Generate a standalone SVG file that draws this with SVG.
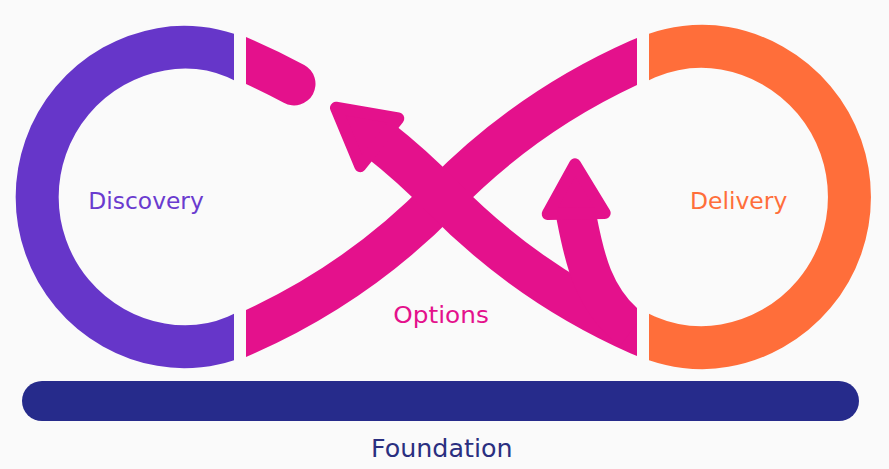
<svg xmlns="http://www.w3.org/2000/svg" width="889" height="469" viewBox="0 0 889 469">
  <style>
    .lbl { font-family: "DejaVu Sans", "Liberation Sans", sans-serif; font-size: 23px; }
    .band { fill: none; stroke-width: 43; stroke-linecap: butt; }
    .stub { fill: none; stroke-width: 43; stroke-linecap: round; }
    .pink { stroke: #E4118C; }
    .head { fill: #E4118C; stroke: #E4118C; stroke-width: 12; stroke-linejoin: round; }
  </style>
  <defs>
    <clipPath id="clipL"><rect x="0" y="0" width="234" height="469"/></clipPath>
    <clipPath id="clipR"><rect x="649" y="0" width="240" height="469"/></clipPath>
    <clipPath id="clipM"><rect x="246" y="0" width="391" height="469"/></clipPath>
  </defs>
  <rect x="0" y="0" width="889" height="469" fill="#FAFAFA"/>

  <g id="discovery">
    <path class="band" stroke="#6636C9" clip-path="url(#clipL)" d="M 246 62 L 236 57.5 C 213 47.75 185.6 44.95 161 49.3 A 150 150 0 0 0 161 344.7 C 185.6 349.05 213 346.25 236 336.5 L 246 332"/>
    <text class="lbl" x="88.3" y="209.3" fill="#6A3BCF" textLength="115.5" lengthAdjust="spacingAndGlyphs">Discovery</text>
  </g>

  <g id="delivery">
    <path class="band" stroke="#FF6E3A" clip-path="url(#clipR)" d="M 637 62 L 647 57.5 C 670.9 47.4 699.1 43.8 724.7 48.3 A 151 151 0 0 1 724.7 345.7 C 699.1 350.2 670.9 346.6 647 336.5 L 637 332"/>
    <text class="lbl" x="690" y="209.3" fill="#FF6E3A" textLength="97.3" lengthAdjust="spacingAndGlyphs">Delivery</text>
  </g>

  <g id="options">
    <g clip-path="url(#clipM)">
      <path class="band pink" d="M 226 342.1 L 246 333.5 A 633 633 0 0 0 442.5 197 A 633 633 0 0 1 639 60.5 L 659 51.9"/>
      <path class="stub pink" d="M 226 51.9 L 246 60.5 A 633 633 0 0 1 294 83.9"/>
    </g>
    <text class="lbl" x="393.3" y="323.3" fill="#E4118C" textLength="95.5" lengthAdjust="spacingAndGlyphs">Options</text>
  </g>

  <g id="connectors">
    <g clip-path="url(#clipM)">
      <path class="band pink" d="M 378 139 A 633 633 0 0 1 442.5 197 A 633 633 0 0 0 639 333.5 L 659 342.1"/>
      <path class="pink" fill="none" stroke-width="40" d="M 575.5 212 C 583 250 590 298 632 330"/>
    </g>
    <polygon class="head" transform="translate(384 146) rotate(218.5)" points="6,-30.5 6,30.5 61.4,0"/>
    <polygon class="head" points="547.7,214 604.7,213 575,164.3"/>
  </g>

  <g id="foundation">
    <rect x="22" y="381" width="837" height="40" rx="20" ry="20" fill="#262B8B"/>
    <text x="371" y="457.3" font-family="DejaVu Sans, Liberation Sans, sans-serif" font-size="25.5" fill="#2A2F80" textLength="141.5" lengthAdjust="spacingAndGlyphs">Foundation</text>
  </g>
</svg>
